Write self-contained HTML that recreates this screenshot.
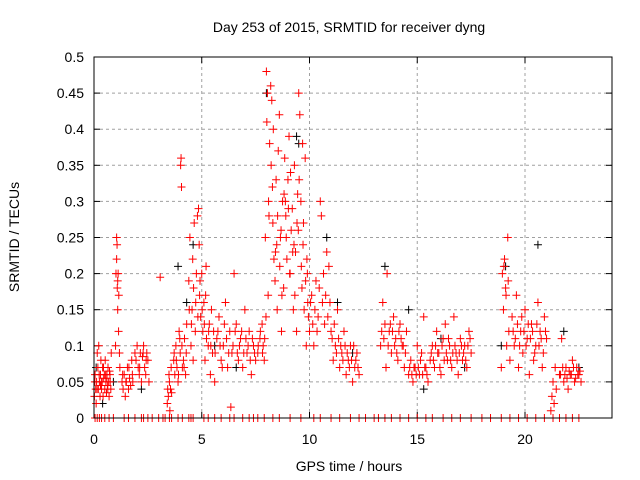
<!DOCTYPE html>
<html><head><meta charset="utf-8"><style>
body{margin:0;background:#fff}
svg{display:block;font-family:"Liberation Sans",sans-serif}
</style></head><body>
<svg id="chart" width="640" height="480" xmlns="http://www.w3.org/2000/svg">
<rect width="640" height="480" fill="#fff"/>
<g id="grid"></g>
<g id="ticks"></g>
<g id="marks"></g>
<rect x="94" y="57" width="518" height="361" fill="none" stroke="#000" stroke-width="1"/>
<text x="349" y="32" text-anchor="middle" font-size="14">Day 253 of 2015, SRMTID for receiver dyng</text>
<text x="349" y="471" text-anchor="middle" font-size="14">GPS time / hours</text>
<text transform="translate(19,237) rotate(-90)" text-anchor="middle" font-size="14">SRMTID / TECUs</text>
</svg>
<script>
const xTicks=[0,5,10,15,20];
const yTicks=[0,0.05,0.1,0.15,0.2,0.25,0.3,0.35,0.4,0.45,0.5];
const yTickLabels=["0","0.05","0.1","0.15","0.2","0.25","0.3","0.35","0.4","0.45","0.5"];
const redHours=[0.02,0.05,0.08,0.1,0.12,0.15,0.18,0.2,0.22,0.25,0.28,0.3,0.32,0.35,0.38,0.4,0.42,0.45,0.48,0.5,0.52,0.55,0.58,0.6,0.62,0.65,0.68,0.7,0.72,0.75,0.78,0.8,
1.0,1.02,1.05,1.07,1.08,1.1,1.12,1.14,1.15,1.18,1.2,
1.3,1.35,1.4,1.45,1.5,1.55,1.6,1.65,1.7,1.75,1.8,1.9,2.0,2.05,2.1,2.15,2.2,2.25,2.3,2.35,2.4,2.45,2.5,2.55,
3.07,3.4,3.42,3.45,3.48,3.5,3.52,3.55,3.58,3.6,
3.7,3.75,3.8,3.85,3.9,3.95,4.0,4.02,4.04,4.06,4.1,4.15,4.2,4.25,4.3,
4.4,4.45,4.5,4.55,4.6,4.65,4.7,4.75,4.8,4.85,4.9,4.95,5.0,5.05,5.1,5.15,5.2,
5.3,5.35,5.4,5.45,5.5,5.55,5.6,5.7,5.8,5.9,6.0,6.1,6.2,6.3,6.35,6.4,6.5,6.6,6.7,6.8,6.9,7.0,7.1,7.2,7.3,7.4,7.5,
7.6,7.7,7.8,7.85,7.9,7.95,8.0,8.02,8.05,8.08,8.1,8.15,
8.2,8.25,8.3,8.35,8.4,8.45,8.5,8.55,8.6,8.65,8.7,8.75,8.8,8.85,8.9,8.95,9.0,9.05,9.1,9.15,9.2,9.25,9.3,9.35,9.4,9.45,9.5,9.55,9.6,9.65,9.7,9.75,9.8,9.85,9.9,9.95,
10.0,10.1,10.2,10.3,10.4,10.5,10.55,10.6,10.7,10.8,10.9,11.0,
11.1,11.2,11.3,11.4,11.5,11.6,11.7,11.8,11.9,12.0,12.1,12.2,12.3,
13.3,13.4,13.5,13.55,13.6,13.7,13.8,13.9,14.0,14.1,14.2,14.3,14.4,14.5,
14.6,14.7,14.8,14.9,15.0,15.1,15.2,15.3,15.4,15.5,
15.6,15.7,15.8,15.9,16.0,16.1,16.2,16.3,16.4,16.5,16.6,16.7,16.8,16.9,17.0,17.1,17.2,17.3,17.4,17.5,
18.9,18.95,19.0,19.05,19.1,19.15,19.2,19.25,19.3,
19.4,19.5,19.6,19.7,19.8,19.9,20.0,20.1,20.2,20.3,20.4,20.5,20.6,20.7,20.8,20.9,21.0,
21.2,21.25,21.3,21.35,21.4,21.45,
21.6,21.7,21.8,21.9,22.0,22.1,22.2,22.3,22.4,22.5,22.6];
const redValues=[.03,.06,.04,.02,.05,.09,.07,.04,.1,.05,.03,.06,.08,.04,.05,.07,.03,.055,.06,.04,.08,.05,.035,.06,.045,.07,.05,.03,.065,.05,.04,.09,
.1,.2,.25,.24,.18,.15,.2,.12,.17,.09,.07,
.05,.04,.06,.03,.05,.07,.04,.055,.045,.08,.05,.09,.1,.07,.06,.09,.05,.085,.1,.07,.06,.09,.08,.05,
.195,.02,.04,.03,.06,.05,.01,.04,.07,.035,
.08,.06,.1,.07,.05,.12,.09,.35,.36,.32,.07,.08,.11,.06,.13,
.19,.25,.1,.15,.08,.27,.12,.2,.28,.29,.17,.14,.2,.12,.16,.08,.21,
.1,.13,.06,.15,.09,.12,.05,.11,.14,.08,.1,.16,.07,.12,.015,.09,.2,.13,.08,.11,.07,.15,.09,.12,.06,.1,.08,
.09,.11,.13,.1,.08,.25,.48,.41,.45,.17,.3,.38,
.46,.44,.27,.22,.19,.33,.15,.37,.42,.25,.12,.3,.18,.36,.28,.22,.33,.39,.2,.26,.29,.15,.35,.23,.12,.31,.45,.42,.3,.18,.24,.15,.36,.1,.2,.14,
.12,.17,.1,.19,.14,.3,.28,.16,.13,.23,.21,.12,
.08,.1,.15,.07,.09,.12,.06,.08,.1,.05,.07,.09,.06,
.1,.16,.13,.07,.2,.12,.09,.14,.11,.08,.13,.1,.07,.12,
.06,.08,.05,.07,.1,.06,.09,.14,.07,.05,
.08,.1,.07,.12,.09,.06,.11,.13,.08,.1,.07,.14,.09,.06,.11,.08,.1,.07,.12,.09,
.07,.2,.15,.22,.18,.1,.25,.12,.08,
.14,.1,.17,.07,.12,.09,.15,.11,.06,.13,.08,.1,.16,.12,.07,.14,.11,
.01,.03,.05,.02,.07,.04,
.06,.11,.05,.07,.04,.06,.08,.05,.07,.06,.05];
const extraHours=[0.04,0.14,0.24,0.34,0.44,0.54,0.64,0.74,0.3,0.6,
1.33,1.48,1.62,1.78,1.95,2.12,2.28,2.42,1.05,1.1,
3.72,3.82,3.92,4.08,4.18,4.28,3.98,
4.42,4.52,4.62,4.72,4.82,4.92,5.02,5.12,5.22,5.32,5.42,4.58,4.88,5.18,
5.62,5.75,5.85,5.95,6.05,6.15,6.25,6.45,6.55,6.65,6.75,6.85,6.95,7.05,7.15,7.25,7.35,7.45,
7.62,7.72,7.82,7.92,7.98,8.12,
8.22,8.32,8.42,8.52,8.62,8.72,8.82,8.92,9.02,9.12,9.22,9.32,9.42,9.52,9.62,9.72,9.82,9.92,8.28,8.48,8.68,8.88,9.08,9.28,9.48,9.68,9.88,
10.05,10.15,10.25,10.35,10.45,10.65,10.75,10.85,10.95,11.05,11.15,11.25,11.35,11.45,11.55,11.65,11.75,11.85,11.95,12.05,12.15,12.25,
13.35,13.45,13.65,13.75,13.85,13.95,14.05,14.15,14.25,14.35,14.45,
14.65,14.75,14.85,14.95,15.05,15.15,15.25,15.35,15.45,
15.65,15.75,15.85,15.95,16.05,16.15,16.25,16.35,16.45,16.55,16.65,16.75,16.85,16.95,17.05,17.15,17.25,17.35,17.45,
19.02,19.12,19.22,19.45,19.55,19.65,19.75,19.85,19.95,20.05,20.15,20.25,20.35,20.45,20.55,20.65,20.75,20.85,20.95,
21.65,21.75,21.85,21.95,22.05,22.15,22.25,22.35,22.45,22.55];
const extraValues=[.05,.04,.06,.05,.07,.06,.04,.06,.045,.055,
.06,.05,.07,.06,.08,.07,.09,.08,.22,.19,
.09,.08,.06,.1,.07,.09,.11,
.15,.13,.18,.16,.14,.19,.15,.13,.11,.12,.1,.22,.24,.17,
.09,.12,.1,.07,.13,.11,.09,.1,.12,.09,.1,.12,.09,.11,.1,.08,.11,.09,
.1,.12,.09,.11,.14,.28,
.35,.4,.23,.28,.21,.17,.31,.25,.29,.34,.23,.17,.27,.33,.21,.27,.19,.16,.32,.24,.26,.3,.2,.24,.26,.38,.22,
.16,.13,.15,.12,.18,.2,.17,.14,.16,.11,.13,.09,.11,.1,.08,.1,.09,.07,.08,.1,.08,.07,
.12,.11,.1,.13,.12,.1,.09,.12,.11,.1,.09,
.07,.06,.07,.06,.07,.08,.06,.07,.06,
.09,.08,.1,.09,.07,.1,.08,.09,.11,.08,.09,.1,.08,.09,.1,.09,.08,.1,.11,
.21,.17,.19,.12,.11,.13,.1,.14,.12,.1,.13,.11,.12,.09,.13,.1,.11,.09,.12,
.06,.07,.06,.055,.065,.06,.07,.055,.06,.065];
const blackHours=[0.1,0.4,0.9,2.2,3.9,4.3,4.6,5.6,6.6,8.0,9.4,9.5,10.8,11.3,12.0,13.5,14.6,15.3,16.1,17.2,18.9,19.1,20.6,21.8,22.5];
const blackValues=[.07,.02,.05,.04,.21,.16,.24,.1,.07,.45,.39,.38,.25,.16,.09,.21,.15,.04,.11,.07,.1,.21,.24,.12,.07];
const zeroHours=[0.05,0.15,0.25,0.35,0.5,0.7,0.9,1.4,1.6,1.9,2.2,2.3,2.5,2.7,3.0,3.2,3.3,3.5,3.6,3.9,4.1,4.4,4.5,4.6,5.1,5.3,5.6,5.9,6.3,6.5,6.9,7.2,7.4,7.6,7.9,8.3,8.6,9.1,9.6,10.2,10.5,11.0,11.4,11.9,12.3,12.6,13.0,13.2,13.5,13.8,14.2,14.6,15.0,15.4,15.7,16.2,16.6,17.0,17.5,18.0,18.4,18.9,19.3,19.7,20.1,20.5,20.9,21.3,21.6,21.9,22.2,22.5];

const X0=94,X1=612,Y0=418,Y1=57;
const xs=h=>X0+h*21.55;
const ys=v=>Y0-(v/0.5)*(Y0-Y1);
const NS="http://www.w3.org/2000/svg";
const grid=document.getElementById('grid'),ticks=document.getElementById('ticks'),marks=document.getElementById('marks');
function mk(t,a,p){const e=document.createElementNS(NS,t);for(const k in a)e.setAttribute(k,a[k]);p.appendChild(e);return e;}
yTicks.forEach((v,i)=>{
  const y=ys(v);
  if(i>0&&i<yTicks.length-1){const g=mk('line',{x1:X0,x2:X1,y1:y,y2:y,stroke:'#a0a0a0','stroke-dasharray':'3,3'},grid);
  
  }
  mk('line',{x1:X0,x2:X0+6,y1:y,y2:y,stroke:'#000'},ticks);
  mk('line',{x1:X1,x2:X1-6,y1:y,y2:y,stroke:'#000'},ticks);
  const t=mk('text',{x:84,y:y+5,'text-anchor':'end','font-size':'14'},ticks);
  t.textContent=yTickLabels[i];
  
  
});
xTicks.forEach(h=>{
  const x=xs(h);
  if(h>0){const g=mk('line',{x1:x,x2:x,y1:Y0,y2:Y1,stroke:'#a0a0a0','stroke-dasharray':'3,3'},grid);
  
  }
  mk('line',{x1:x,x2:x,y1:Y0,y2:Y0-6,stroke:'#000'},ticks);
  mk('line',{x1:x,x2:x,y1:Y1,y2:Y1+6,stroke:'#000'},ticks);
  const t=mk('text',{x:x,y:444,'text-anchor':'middle','font-size':'14'},ticks);
  t.textContent=String(h);
  
  
});
function plus(h,v,c,name){
  const x=xs(h),y=ys(v);
  const p=mk('path',{d:`M${x-4},${y}H${x+4}M${x},${y-4}V${y+4}`,stroke:c,'stroke-width':'1',fill:'none'},marks);
  
  
}
blackHours.forEach((h,i)=>plus(h,blackValues[i],'#000','black-point'));
redHours.forEach((h,i)=>plus(h,redValues[i],'#ff0000','red-point'));
extraHours.forEach((h,i)=>plus(h,extraValues[i],'#ff0000','red-point'));
zeroHours.forEach(h=>plus(h,0,'#ff0000','zero-point'));
</script>
</body></html>
